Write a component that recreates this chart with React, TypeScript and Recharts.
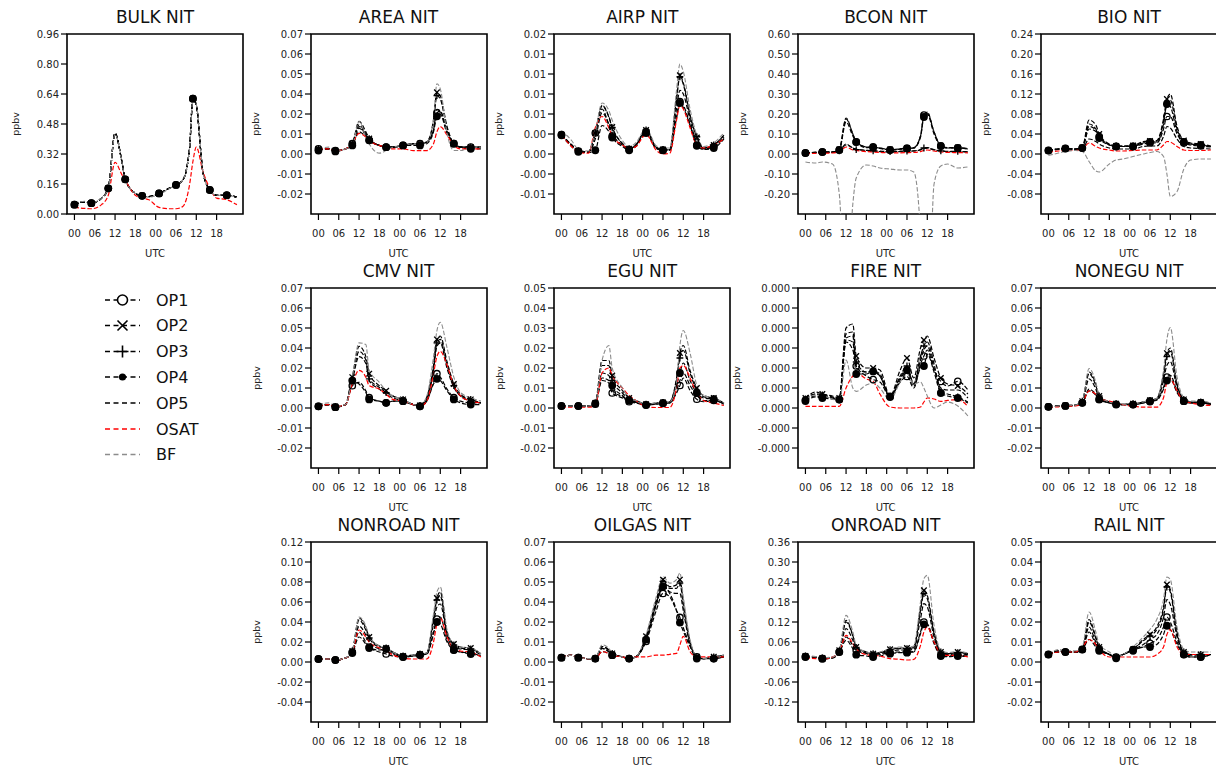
import React from 'react';
import { LineChart, Line, XAxis, YAxis, ReferenceArea } from 'recharts';

// hours since 00 UTC of day 1 (markers every 5 h)
const HOURS = [0, 3, 5, 8, 10, 12, 14, 15, 18, 20, 22, 25, 28, 30, 32, 34, 35, 36, 38, 40, 42, 45, 48];
const X_TICKS = [0, 6, 12, 18, 24, 30, 36, 42];
const X_LABELS = ['00', '06', '12', '18', '00', '06', '12', '18'];
const X_DOMAIN: [number, number] = [-2.2, 49.8];

// y tick labels, bottom to top
const Y_BULK = ['0.00', '0.16', '0.32', '0.48', '0.64', '0.80', '0.96'];
const Y_007 = ['-0.02', '-0.01', '0.00', '0.01', '0.02', '0.04', '0.05', '0.06', '0.07'];
const Y_AIRP = ['-0.01', '-0.00', '0.00', '0.00', '0.01', '0.01', '0.01', '0.01', '0.02'];
const Y_BCON = ['-0.20', '-0.10', '0.00', '0.10', '0.20', '0.30', '0.40', '0.50', '0.60'];
const Y_BIO = ['-0.08', '-0.04', '0.00', '0.04', '0.08', '0.12', '0.16', '0.20', '0.24'];
const Y_005 = ['-0.02', '-0.01', '0.00', '0.01', '0.02', '0.02', '0.03', '0.04', '0.05'];
const Y_FIRE = ['-0.000', '-0.000', '0.000', '0.000', '0.000', '0.000', '0.000', '0.000', '0.000'];
const Y_NONROAD = ['-0.04', '-0.02', '0.00', '0.02', '0.04', '0.06', '0.08', '0.10', '0.12'];
const Y_ONROAD = ['-0.12', '-0.06', '0.00', '0.06', '0.12', '0.18', '0.24', '0.30', '0.36'];

// ---- BULK
const BULK_OP = [0.05, 0.065, 0.058, 0.085, 0.137, 0.43, 0.28, 0.185, 0.11, 0.097, 0.093, 0.11, 0.137, 0.155, 0.18, 0.35, 0.615, 0.58, 0.22, 0.128, 0.1, 0.1, 0.09];
const BULK_OSAT = [0.035, 0.03, 0.028, 0.05, 0.1, 0.275, 0.21, 0.18, 0.1, 0.085, 0.076, 0.035, 0.028, 0.028, 0.04, 0.155, 0.28, 0.357, 0.225, 0.137, 0.085, 0.076, 0.05];
const BULK_BF = [0.055, 0.068, 0.06, 0.085, 0.135, 0.425, 0.28, 0.18, 0.11, 0.095, 0.09, 0.105, 0.135, 0.155, 0.18, 0.35, 0.61, 0.585, 0.22, 0.125, 0.1, 0.1, 0.088];

// ---- AREA
const AREA_OP = [
  [0.003, 0.003, 0.002, 0.003, 0.006, 0.016, 0.011, 0.008, 0.005, 0.004, 0.004, 0.005, 0.006, 0.006, 0.007, 0.014, 0.024, 0.025, 0.013, 0.006, 0.004, 0.004, 0.004],
  [0.003, 0.003, 0.002, 0.003, 0.006, 0.019, 0.013, 0.009, 0.005, 0.004, 0.004, 0.005, 0.006, 0.006, 0.007, 0.02, 0.036, 0.034, 0.016, 0.006, 0.004, 0.004, 0.004],
  [0.003, 0.003, 0.002, 0.003, 0.006, 0.017, 0.012, 0.009, 0.005, 0.004, 0.004, 0.005, 0.006, 0.006, 0.007, 0.019, 0.034, 0.032, 0.015, 0.006, 0.004, 0.004, 0.004],
  [0.002, 0.003, 0.0015, 0.003, 0.005, 0.013, 0.01, 0.008, 0.005, 0.004, 0.004, 0.005, 0.005, 0.005, 0.006, 0.013, 0.022, 0.023, 0.012, 0.006, 0.004, 0.003, 0.003],
  [0.003, 0.003, 0.002, 0.003, 0.006, 0.015, 0.011, 0.008, 0.005, 0.004, 0.004, 0.005, 0.006, 0.006, 0.007, 0.014, 0.026, 0.025, 0.013, 0.006, 0.004, 0.004, 0.004],
];
const AREA_OSAT = [0.003, 0.003, 0.002, 0.003, 0.006, 0.012, 0.01, 0.008, 0.005, 0.004, 0.003, 0.003, 0.002, 0.002, 0.002, 0.006, 0.013, 0.016, 0.011, 0.005, 0.003, 0.003, 0.003];
const AREA_BF = [0.003, 0.004, 0.002, 0.003, 0.005, 0.019, 0.01, 0.006, 0.0005, 0.002, 0.004, 0.005, 0.006, 0.006, 0.007, 0.02, 0.041, 0.038, 0.012, 0.002, 0.002, 0.004, 0.004];

// ---- AIRP
const AIRP_OP = [
  [0.0026, 0.0012, 0.0004, 0.0003, 0.0028, 0.006, 0.0038, 0.0024, 0.0012, 0.0006, 0.0012, 0.003, 0.0008, 0.0005, 0.0005, 0.005, 0.007, 0.0065, 0.004, 0.0012, 0.0007, 0.001, 0.0022],
  [0.0026, 0.0012, 0.0004, 0.0003, 0.0028, 0.0065, 0.005, 0.0036, 0.0014, 0.0007, 0.0012, 0.0032, 0.0009, 0.0006, 0.0006, 0.0075, 0.0105, 0.0095, 0.0052, 0.0022, 0.0008, 0.0012, 0.0025],
  [0.0026, 0.0012, 0.0004, 0.0003, 0.0028, 0.0064, 0.0049, 0.0035, 0.0014, 0.0007, 0.0012, 0.0032, 0.0009, 0.0006, 0.0006, 0.0073, 0.0103, 0.0093, 0.005, 0.0023, 0.0008, 0.0012, 0.0025],
  [0.0025, 0.001, 0.0003, 0.0002, 0.0005, 0.0038, 0.003, 0.0022, 0.001, 0.0005, 0.001, 0.0028, 0.0007, 0.0005, 0.0005, 0.0048, 0.0068, 0.0062, 0.0038, 0.0011, 0.0006, 0.0008, 0.002],
  [0.0026, 0.0012, 0.0004, 0.0003, 0.002, 0.0055, 0.004, 0.0028, 0.0012, 0.0006, 0.0012, 0.003, 0.0008, 0.0005, 0.0005, 0.006, 0.0085, 0.008, 0.0045, 0.0015, 0.0007, 0.001, 0.0022],
];
const AIRP_OSAT = [0.0025, 0.001, 0.0002, 0.0001, 0.0035, 0.005, 0.0035, 0.0024, 0.0012, 0.0007, 0.001, 0.0026, 0.0005, 0.0, 0.0001, 0.0045, 0.0065, 0.006, 0.0035, 0.0012, 0.0008, 0.0012, 0.002];
const AIRP_BF = [0.0031, 0.0018, 0.0006, 0.0004, 0.003, 0.0068, 0.0058, 0.0045, 0.0018, 0.001, 0.0015, 0.0034, 0.0011, 0.0008, 0.0008, 0.0085, 0.012, 0.011, 0.006, 0.0025, 0.001, 0.0015, 0.0028];

// ---- BCON
const BCON_OP = [
  [0.005, 0.008, 0.01, 0.01, 0.02, 0.18, 0.1, 0.06, 0.035, 0.032, 0.03, 0.02, 0.025, 0.028, 0.03, 0.09, 0.195, 0.21, 0.11, 0.04, 0.03, 0.03, 0.025],
  [0.005, 0.008, 0.01, 0.01, 0.022, 0.175, 0.1, 0.06, 0.035, 0.033, 0.03, 0.022, 0.026, 0.03, 0.032, 0.09, 0.19, 0.205, 0.11, 0.04, 0.032, 0.032, 0.027],
  [0.004, 0.006, 0.008, 0.008, 0.016, 0.045, 0.03, 0.022, 0.018, 0.016, 0.014, 0.012, 0.014, 0.015, 0.016, 0.022, 0.03, 0.032, 0.022, 0.016, 0.013, 0.013, 0.011],
  [0.005, 0.008, 0.01, 0.01, 0.02, 0.16, 0.09, 0.06, 0.032, 0.035, 0.028, 0.02, 0.024, 0.028, 0.03, 0.085, 0.185, 0.2, 0.1, 0.04, 0.03, 0.03, 0.025],
  [0.004, 0.006, 0.008, 0.008, 0.015, 0.05, 0.03, 0.025, 0.018, 0.015, 0.012, 0.01, 0.012, 0.013, 0.015, 0.02, 0.028, 0.03, 0.02, 0.015, 0.012, 0.012, 0.01],
];
const BCON_OSAT = [0.002, 0.003, 0.004, 0.005, 0.01, 0.035, 0.02, 0.018, 0.012, 0.01, 0.008, 0.006, 0.006, 0.007, 0.008, 0.012, 0.018, 0.02, 0.015, 0.01, 0.008, 0.007, 0.006];
const BCON_BF = [-0.04, -0.045, -0.04, -0.05, -0.2, -0.8, -0.25, -0.12, -0.055, -0.06, -0.07, -0.075, -0.08, -0.08, -0.09, -0.4, -1.0, -1.0, -0.15, -0.06, -0.05, -0.07, -0.065];

// ---- BIO
const BIO_OP = [
  [0.007, 0.01, 0.011, 0.01, 0.012, 0.05, 0.045, 0.035, 0.018, 0.015, 0.015, 0.015, 0.02, 0.022, 0.022, 0.05, 0.075, 0.075, 0.04, 0.022, 0.018, 0.016, 0.014],
  [0.007, 0.01, 0.011, 0.01, 0.013, 0.068, 0.058, 0.04, 0.02, 0.016, 0.016, 0.017, 0.025, 0.026, 0.027, 0.07, 0.11, 0.12, 0.055, 0.027, 0.022, 0.02, 0.016],
  [0.007, 0.01, 0.011, 0.01, 0.013, 0.06, 0.05, 0.037, 0.019, 0.016, 0.016, 0.016, 0.023, 0.025, 0.025, 0.065, 0.1, 0.108, 0.05, 0.025, 0.02, 0.018, 0.015],
  [0.007, 0.01, 0.011, 0.01, 0.012, 0.055, 0.048, 0.032, 0.018, 0.015, 0.015, 0.015, 0.022, 0.024, 0.024, 0.06, 0.1, 0.095, 0.045, 0.024, 0.02, 0.018, 0.015],
  [0.006, 0.009, 0.01, 0.009, 0.01, 0.03, 0.025, 0.02, 0.012, 0.01, 0.01, 0.01, 0.015, 0.016, 0.016, 0.035, 0.055, 0.052, 0.03, 0.015, 0.012, 0.011, 0.01],
];
const BIO_OSAT = [0.004, 0.006, 0.007, 0.007, 0.01, 0.022, 0.015, 0.012, 0.008, 0.006, 0.006, 0.007, 0.008, 0.008, 0.008, 0.018, 0.025, 0.024, 0.015, 0.008, 0.007, 0.007, 0.008];
const BIO_BF = [-0.003, 0.002, 0.005, 0.007, 0.005, -0.015, -0.034, -0.036, -0.02, -0.012, -0.01, -0.005, 0.0, 0.003, 0.005, -0.005, -0.04, -0.085, -0.075, -0.03, -0.012, -0.01, -0.01];

// ---- CMV
const CMV_OP = [
  [0.001, 0.002, 0.0005, 0.002, 0.013, 0.015, 0.01, 0.006, 0.004, 0.003, 0.004, 0.004, 0.002, 0.001, 0.004, 0.015, 0.02, 0.018, 0.011, 0.006, 0.004, 0.003, 0.003],
  [0.001, 0.002, 0.0008, 0.002, 0.018, 0.036, 0.03, 0.02, 0.013, 0.01, 0.007, 0.005, 0.002, 0.0015, 0.006, 0.025, 0.04, 0.042, 0.027, 0.014, 0.008, 0.005, 0.003],
  [0.001, 0.002, 0.0008, 0.002, 0.017, 0.033, 0.028, 0.017, 0.012, 0.009, 0.007, 0.005, 0.002, 0.0015, 0.006, 0.024, 0.038, 0.04, 0.025, 0.013, 0.007, 0.005, 0.003],
  [0.001, 0.002, 0.0005, 0.002, 0.016, 0.014, 0.009, 0.005, 0.004, 0.003, 0.004, 0.004, 0.002, 0.001, 0.004, 0.014, 0.017, 0.016, 0.01, 0.005, 0.003, 0.002, 0.002],
  [0.001, 0.002, 0.0008, 0.002, 0.016, 0.03, 0.026, 0.016, 0.011, 0.008, 0.006, 0.004, 0.002, 0.0015, 0.005, 0.022, 0.036, 0.038, 0.023, 0.012, 0.007, 0.004, 0.003],
];
const CMV_OSAT = [0.001, 0.002, 0.001, 0.002, 0.014, 0.022, 0.018, 0.013, 0.011, 0.008, 0.005, 0.004, 0.002, 0.001, 0.004, 0.02, 0.03, 0.033, 0.025, 0.013, 0.007, 0.004, 0.003];
const CMV_BF = [0.002, 0.003, 0.001, 0.002, 0.018, 0.038, 0.037, 0.022, 0.015, 0.01, 0.007, 0.005, 0.002, 0.0015, 0.007, 0.03, 0.045, 0.05, 0.035, 0.018, 0.009, 0.006, 0.004];

// ---- EGU
const EGU_OP = [
  [0.0008, 0.0008, 0.0008, 0.0008, 0.0015, 0.011, 0.01, 0.006, 0.004, 0.0025, 0.002, 0.0012, 0.0015, 0.0018, 0.002, 0.006, 0.009, 0.012, 0.007, 0.0035, 0.0025, 0.003, 0.0015],
  [0.0008, 0.0008, 0.0008, 0.0008, 0.002, 0.019, 0.019, 0.013, 0.007, 0.004, 0.003, 0.0015, 0.002, 0.0022, 0.0025, 0.012, 0.022, 0.025, 0.015, 0.008, 0.005, 0.004, 0.002],
  [0.0008, 0.0008, 0.0008, 0.0008, 0.002, 0.017, 0.017, 0.011, 0.006, 0.0035, 0.003, 0.0015, 0.002, 0.0022, 0.0025, 0.011, 0.02, 0.023, 0.014, 0.007, 0.0045, 0.0038, 0.002],
  [0.0008, 0.0008, 0.0008, 0.0008, 0.0018, 0.014, 0.013, 0.009, 0.005, 0.003, 0.0025, 0.0012, 0.0018, 0.002, 0.0022, 0.009, 0.014, 0.018, 0.011, 0.006, 0.004, 0.0035, 0.0018],
  [0.0008, 0.0008, 0.0008, 0.0008, 0.0016, 0.012, 0.011, 0.007, 0.0045, 0.0028, 0.0022, 0.0012, 0.0016, 0.0019, 0.002, 0.007, 0.011, 0.014, 0.009, 0.005, 0.003, 0.003, 0.0015],
];
const EGU_OSAT = [0.0003, 0.0003, 0.0003, 0.0003, 0.001, 0.014, 0.016, 0.013, 0.008, 0.005, 0.003, 0.0005, 0.0002, 0.0002, 0.0002, 0.008, 0.016, 0.017, 0.012, 0.006, 0.003, 0.002, 0.001];
const EGU_BF = [0.0008, 0.0008, 0.0008, 0.0008, 0.002, 0.019, 0.025, 0.016, 0.008, 0.004, 0.003, 0.0015, 0.002, 0.0022, 0.0025, 0.01, 0.025, 0.031, 0.022, 0.009, 0.005, 0.004, 0.002];

// ---- FIRE
const FIRE_OP = [
  [2e-5, 3e-5, 2.75e-5, 2.5e-5, 2.1e-5, 16.5e-5, 14.5e-5, 10.5e-5, 8e-5, 7.1e-5, 6.5e-5, 2.9e-5, 6.5e-5, 7.9e-5, 5e-5, 11e-5, 13e-5, 14.5e-5, 9.5e-5, 6.65e-5, 5.5e-5, 6.65e-5, 4.5e-5],
  [2.5e-5, 4e-5, 3.5e-5, 3e-5, 2.5e-5, 20e-5, 21e-5, 13e-5, 10e-5, 10e-5, 9.5e-5, 3e-5, 9.5e-5, 12.5e-5, 7.5e-5, 15e-5, 17e-5, 18e-5, 12.5e-5, 7.5e-5, 6e-5, 5.5e-5, 3.5e-5],
  [2.25e-5, 3.5e-5, 3.25e-5, 2.75e-5, 2.25e-5, 18.5e-5, 19e-5, 11.5e-5, 9e-5, 9.25e-5, 8.5e-5, 2.9e-5, 8e-5, 10.5e-5, 6e-5, 13e-5, 15.5e-5, 16.5e-5, 11e-5, 4e-5, 3.5e-5, 2.75e-5, 1.5e-5],
  [1.75e-5, 2.75e-5, 2.5e-5, 2.25e-5, 2.1e-5, 17e-5, 16.5e-5, 8.5e-5, 8.5e-5, 9.15e-5, 8e-5, 2.75e-5, 7e-5, 9.5e-5, 5.5e-5, 10e-5, 10.5e-5, 13.5e-5, 9e-5, 3.75e-5, 3e-5, 2.5e-5, 1.25e-5],
  [2.25e-5, 3.5e-5, 3e-5, 2.5e-5, 2.25e-5, 17.5e-5, 18e-5, 10e-5, 9e-5, 9e-5, 8e-5, 3e-5, 7.5e-5, 10e-5, 6e-5, 12e-5, 14.5e-5, 15.5e-5, 10e-5, 5e-5, 4.5e-5, 4.5e-5, 2.5e-5],
];
const FIRE_OSAT = [0.4e-5, 0.4e-5, 0.4e-5, 0.4e-5, 0.4e-5, 5e-5, 8e-5, 8.75e-5, 7.25e-5, 6.65e-5, 3.5e-5, 0.25e-5, 0, 0, 0, 0.25e-5, 1.5e-5, 2.5e-5, 2.25e-5, 1.65e-5, 1.9e-5, 2.1e-5, 0.4e-5];
const FIRE_BF = [2.25e-5, 3.25e-5, 3e-5, 2.25e-5, 1.5e-5, 12e-5, 5e-5, 4.15e-5, 5.75e-5, 6.25e-5, 5e-5, 2e-5, 6.5e-5, 8.5e-5, 6e-5, 6.5e-5, 5e-5, 3e-5, 0, 0.75e-5, 1.5e-5, 0.5e-5, -2e-5];

// ---- NONEGU
const NONEGU_OP = [
  [0.0007, 0.001, 0.0012, 0.0015, 0.003, 0.011, 0.008, 0.005, 0.003, 0.0022, 0.002, 0.002, 0.003, 0.004, 0.005, 0.012, 0.018, 0.019, 0.01, 0.004, 0.003, 0.003, 0.002],
  [0.0008, 0.0012, 0.0015, 0.0017, 0.004, 0.021, 0.014, 0.007, 0.0035, 0.0025, 0.0022, 0.0025, 0.0035, 0.0045, 0.0055, 0.02, 0.032, 0.035, 0.014, 0.005, 0.0035, 0.0035, 0.0025],
  [0.0008, 0.0012, 0.0015, 0.0017, 0.004, 0.02, 0.013, 0.007, 0.0035, 0.0025, 0.0022, 0.0025, 0.0035, 0.0045, 0.0055, 0.019, 0.03, 0.033, 0.013, 0.005, 0.0035, 0.0035, 0.0025],
  [0.0007, 0.001, 0.0012, 0.0015, 0.003, 0.01, 0.0075, 0.005, 0.003, 0.002, 0.002, 0.002, 0.003, 0.0038, 0.0045, 0.011, 0.016, 0.017, 0.009, 0.004, 0.003, 0.003, 0.002],
  [0.0008, 0.0011, 0.0013, 0.0016, 0.0035, 0.017, 0.011, 0.006, 0.0032, 0.0023, 0.002, 0.0022, 0.003, 0.004, 0.005, 0.016, 0.025, 0.027, 0.012, 0.0045, 0.003, 0.003, 0.002],
];
const NONEGU_OSAT = [0.0005, 0.0007, 0.001, 0.0012, 0.003, 0.01, 0.008, 0.006, 0.004, 0.003, 0.002, 0.001, 0.0005, 0.0005, 0.0005, 0.006, 0.015, 0.017, 0.01, 0.004, 0.003, 0.002, 0.0015];
const NONEGU_BF = [0.0008, 0.0012, 0.0015, 0.0017, 0.004, 0.023, 0.015, 0.007, 0.0035, 0.0025, 0.0022, 0.0025, 0.0035, 0.0045, 0.0055, 0.022, 0.04, 0.047, 0.018, 0.006, 0.004, 0.004, 0.003];

// ---- NONROAD
const NONROAD_OP = [
  [0.003, 0.003, 0.002, 0.004, 0.01, 0.03, 0.02, 0.015, 0.01, 0.008, 0.006, 0.005, 0.006, 0.007, 0.008, 0.03, 0.043, 0.045, 0.022, 0.012, 0.01, 0.009, 0.006],
  [0.003, 0.003, 0.002, 0.004, 0.011, 0.044, 0.034, 0.025, 0.016, 0.014, 0.01, 0.006, 0.007, 0.008, 0.009, 0.045, 0.064, 0.07, 0.03, 0.018, 0.015, 0.014, 0.008],
  [0.003, 0.003, 0.002, 0.004, 0.011, 0.042, 0.032, 0.024, 0.015, 0.014, 0.01, 0.006, 0.007, 0.008, 0.009, 0.043, 0.062, 0.066, 0.028, 0.017, 0.014, 0.013, 0.008],
  [0.003, 0.003, 0.002, 0.004, 0.009, 0.025, 0.018, 0.014, 0.012, 0.013, 0.009, 0.005, 0.006, 0.007, 0.008, 0.028, 0.04, 0.038, 0.02, 0.012, 0.01, 0.008, 0.006],
  [0.003, 0.003, 0.002, 0.004, 0.01, 0.036, 0.027, 0.02, 0.013, 0.011, 0.008, 0.005, 0.006, 0.007, 0.008, 0.038, 0.055, 0.058, 0.026, 0.015, 0.013, 0.012, 0.007],
];
const NONROAD_OSAT = [0.003, 0.003, 0.002, 0.004, 0.01, 0.032, 0.025, 0.02, 0.014, 0.011, 0.007, 0.004, 0.003, 0.003, 0.003, 0.02, 0.038, 0.044, 0.025, 0.013, 0.011, 0.01, 0.005];
const NONROAD_BF = [0.003, 0.003, 0.002, 0.004, 0.011, 0.045, 0.036, 0.026, 0.016, 0.014, 0.01, 0.006, 0.007, 0.008, 0.009, 0.048, 0.07, 0.075, 0.032, 0.018, 0.015, 0.014, 0.008];

// ---- OILGAS
const OILGAS_OP = [
  [0.0025, 0.004, 0.0025, 0.002, 0.002, 0.008, 0.006, 0.004, 0.003, 0.002, 0.003, 0.012, 0.03, 0.04, 0.038, 0.03, 0.026, 0.02, 0.01, 0.003, 0.002, 0.002, 0.003],
  [0.0025, 0.004, 0.0025, 0.002, 0.002, 0.009, 0.007, 0.005, 0.003, 0.002, 0.003, 0.015, 0.036, 0.048, 0.044, 0.045, 0.048, 0.035, 0.012, 0.003, 0.002, 0.003, 0.004],
  [0.0025, 0.004, 0.0025, 0.002, 0.002, 0.009, 0.007, 0.005, 0.003, 0.002, 0.003, 0.014, 0.035, 0.047, 0.043, 0.043, 0.046, 0.033, 0.011, 0.003, 0.002, 0.003, 0.004],
  [0.0025, 0.004, 0.0025, 0.002, 0.002, 0.006, 0.005, 0.004, 0.003, 0.002, 0.003, 0.013, 0.033, 0.044, 0.04, 0.03, 0.023, 0.018, 0.009, 0.002, 0.002, 0.002, 0.003],
  [0.0025, 0.004, 0.0025, 0.002, 0.002, 0.008, 0.006, 0.0045, 0.003, 0.002, 0.003, 0.013, 0.034, 0.045, 0.041, 0.04, 0.04, 0.03, 0.01, 0.003, 0.002, 0.0025, 0.0035],
];
const OILGAS_OSAT = [0.0025, 0.004, 0.0025, 0.002, 0.002, 0.006, 0.005, 0.004, 0.003, 0.002, 0.003, 0.003, 0.004, 0.004, 0.0045, 0.005, 0.01, 0.015, 0.006, 0.003, 0.003, 0.003, 0.003];
const OILGAS_BF = [0.0025, 0.004, 0.0025, 0.002, 0.002, 0.01, 0.008, 0.005, 0.003, 0.002, 0.003, 0.016, 0.038, 0.05, 0.046, 0.048, 0.052, 0.038, 0.013, 0.003, 0.002, 0.003, 0.004];

// ---- ONROAD
const ONROAD_OP = [
  [0.016, 0.014, 0.01, 0.012, 0.03, 0.075, 0.05, 0.035, 0.025, 0.02, 0.022, 0.028, 0.03, 0.03, 0.032, 0.09, 0.12, 0.115, 0.06, 0.02, 0.018, 0.02, 0.018],
  [0.018, 0.015, 0.012, 0.014, 0.035, 0.125, 0.08, 0.045, 0.03, 0.025, 0.028, 0.038, 0.042, 0.042, 0.045, 0.16, 0.215, 0.2, 0.09, 0.03, 0.025, 0.03, 0.025],
  [0.018, 0.015, 0.012, 0.014, 0.034, 0.12, 0.078, 0.044, 0.03, 0.025, 0.028, 0.037, 0.04, 0.04, 0.043, 0.155, 0.205, 0.19, 0.085, 0.03, 0.025, 0.028, 0.024],
  [0.015, 0.013, 0.01, 0.012, 0.03, 0.065, 0.04, 0.022, 0.018, 0.015, 0.018, 0.025, 0.028, 0.028, 0.03, 0.085, 0.113, 0.11, 0.055, 0.018, 0.016, 0.018, 0.016],
  [0.017, 0.014, 0.011, 0.013, 0.032, 0.1, 0.065, 0.04, 0.027, 0.022, 0.025, 0.033, 0.036, 0.036, 0.038, 0.13, 0.175, 0.165, 0.075, 0.025, 0.022, 0.025, 0.022],
];
const ONROAD_OSAT = [0.012, 0.01, 0.008, 0.015, 0.03, 0.08, 0.055, 0.04, 0.022, 0.02, 0.018, 0.01, 0.008, 0.006, 0.008, 0.05, 0.09, 0.105, 0.06, 0.025, 0.02, 0.02, 0.015];
const ONROAD_BF = [0.02, 0.016, 0.013, 0.015, 0.035, 0.14, 0.09, 0.05, 0.03, 0.027, 0.03, 0.04, 0.045, 0.045, 0.048, 0.18, 0.25, 0.26, 0.11, 0.035, 0.028, 0.032, 0.027];

// ---- RAIL
const RAIL_OP = [
  [0.003, 0.004, 0.004, 0.004, 0.005, 0.012, 0.007, 0.005, 0.003, 0.002, 0.003, 0.005, 0.006, 0.0075, 0.009, 0.014, 0.018, 0.016, 0.008, 0.003, 0.002, 0.002, 0.003],
  [0.003, 0.0045, 0.004, 0.004, 0.005, 0.017, 0.01, 0.006, 0.003, 0.002, 0.003, 0.005, 0.009, 0.011, 0.014, 0.022, 0.031, 0.029, 0.012, 0.004, 0.003, 0.003, 0.003],
  [0.003, 0.0045, 0.004, 0.004, 0.005, 0.016, 0.0095, 0.006, 0.003, 0.002, 0.003, 0.005, 0.0085, 0.0104, 0.013, 0.021, 0.03, 0.028, 0.011, 0.004, 0.003, 0.003, 0.003],
  [0.003, 0.004, 0.004, 0.004, 0.005, 0.009, 0.006, 0.0045, 0.003, 0.0015, 0.003, 0.0045, 0.006, 0.006, 0.007, 0.011, 0.0145, 0.013, 0.007, 0.003, 0.002, 0.002, 0.003],
  [0.003, 0.004, 0.004, 0.004, 0.005, 0.014, 0.008, 0.0055, 0.003, 0.002, 0.003, 0.005, 0.007, 0.009, 0.011, 0.018, 0.025, 0.023, 0.01, 0.0035, 0.0025, 0.0025, 0.003],
];
const RAIL_OSAT = [0.003, 0.004, 0.004, 0.004, 0.006, 0.009, 0.007, 0.005, 0.002, 0.002, 0.002, 0.002, 0.002, 0.002, 0.003, 0.006, 0.011, 0.013, 0.006, 0.003, 0.003, 0.003, 0.003];
const RAIL_BF = [0.003, 0.005, 0.0045, 0.0045, 0.006, 0.02, 0.012, 0.007, 0.004, 0.002, 0.003, 0.006, 0.01, 0.013, 0.017, 0.025, 0.034, 0.033, 0.014, 0.005, 0.004, 0.004, 0.004];

type PanelDef = {
  title: string; row: number; col: number; max: number; neg: boolean;
  yLabels: string[]; op: number[][]; osat: number[]; bf: number[]; gap: number;
};

const PANELS: PanelDef[] = [
  { title: 'BULK NIT', row: 0, col: 0, max: 0.96, neg: false, yLabels: Y_BULK, op: [BULK_OP, BULK_OP, BULK_OP, BULK_OP, BULK_OP], osat: BULK_OSAT, bf: BULK_BF, gap: 51 },
  { title: 'AREA NIT', row: 0, col: 1, max: 0.07, neg: true, yLabels: Y_007, op: AREA_OP, osat: AREA_OSAT, bf: AREA_BF, gap: 54.5 },
  { title: 'AIRP NIT', row: 0, col: 2, max: 0.016, neg: true, yLabels: Y_AIRP, op: AIRP_OP, osat: AIRP_OSAT, bf: AIRP_BF, gap: 55.5 },
  { title: 'BCON NIT', row: 0, col: 3, max: 0.6, neg: true, yLabels: Y_BCON, op: BCON_OP, osat: BCON_OSAT, bf: BCON_BF, gap: 55 },
  { title: 'BIO NIT', row: 0, col: 4, max: 0.24, neg: true, yLabels: Y_BIO, op: BIO_OP, osat: BIO_OSAT, bf: BIO_BF, gap: 55 },
  { title: 'CMV NIT', row: 1, col: 1, max: 0.07, neg: true, yLabels: Y_007, op: CMV_OP, osat: CMV_OSAT, bf: CMV_BF, gap: 54 },
  { title: 'EGU NIT', row: 1, col: 2, max: 0.048, neg: true, yLabels: Y_005, op: EGU_OP, osat: EGU_OSAT, bf: EGU_BF, gap: 54 },
  { title: 'FIRE NIT', row: 1, col: 3, max: 0.0003, neg: true, yLabels: Y_FIRE, op: FIRE_OP, osat: FIRE_OSAT, bf: FIRE_BF, gap: 61 },
  { title: 'NONEGU NIT', row: 1, col: 4, max: 0.07, neg: true, yLabels: Y_007, op: NONEGU_OP, osat: NONEGU_OSAT, bf: NONEGU_BF, gap: 54 },
  { title: 'NONROAD NIT', row: 2, col: 1, max: 0.12, neg: true, yLabels: Y_NONROAD, op: NONROAD_OP, osat: NONROAD_OSAT, bf: NONROAD_BF, gap: 54 },
  { title: 'OILGAS NIT', row: 2, col: 2, max: 0.07, neg: true, yLabels: Y_007, op: OILGAS_OP, osat: OILGAS_OSAT, bf: OILGAS_BF, gap: 55.5 },
  { title: 'ONROAD NIT', row: 2, col: 3, max: 0.36, neg: true, yLabels: Y_ONROAD, op: ONROAD_OP, osat: ONROAD_OSAT, bf: ONROAD_BF, gap: 55 },
  { title: 'RAIL NIT', row: 2, col: 4, max: 0.048, neg: true, yLabels: Y_005, op: RAIL_OP, osat: RAIL_OSAT, bf: RAIL_BF, gap: 55 },
];

const COL_X = [67, 310.5, 554.3, 797.7, 1041];
const ROW_Y = [34, 288, 542];
const BOX_W = 176;
const BOX_H = 180;
const ML = 60;

const OP_MARKS = ['o', 'x', '+', 'dot', 'none'];

const marker = (kind: string) => (props: any) => {
  const { cx, cy, payload, index } = props;
  const k = `m${index}`;
  if (cx == null || cy == null || payload.h % 5 !== 0) return <g key={k} />;
  if (kind === 'o') return <circle key={k} cx={cx} cy={cy} r={3.2} fill="none" stroke="#000" strokeWidth={1.3} />;
  if (kind === 'dot') return <circle key={k} cx={cx} cy={cy} r={3.9} fill="#000" />;
  if (kind === 'x') {
    const s = 2.8;
    return <path key={k} d={`M${cx - s},${cy - s}L${cx + s},${cy + s}M${cx - s},${cy + s}L${cx + s},${cy - s}`} stroke="#000" strokeWidth={1.3} />;
  }
  const s = 3.4;
  return <path key={k} d={`M${cx - s},${cy}L${cx + s},${cy}M${cx},${cy - s}L${cx},${cy + s}`} stroke="#000" strokeWidth={1.3} />;
};

function Panel({ p }: { p: PanelDef }) {
  const left = COL_X[p.col];
  const top = ROW_Y[p.row];
  const lo = p.neg ? -p.max / 2 : 0;
  const yTicks = p.yLabels.map((_, i) => ((p.neg ? i - 2 : i) * p.max) / 6);
  const data = HOURS.map((h, i) => ({
    h,
    OP1: p.op[0][i],
    OP2: p.op[1][i],
    OP3: p.op[2][i],
    OP4: p.op[3][i],
    OP5: p.op[4][i],
    OSAT: p.osat[i],
    BF: p.bf[i],
  }));
  const yFmt = (v: number) => {
    const i = yTicks.findIndex((t) => Math.abs(t - v) < p.max * 1e-6);
    return i >= 0 ? p.yLabels[i] : '';
  };
  return (
    <>
      <div style={{ position: 'absolute', left, top: top - 25, width: BOX_W, textAlign: 'center', fontSize: 17, lineHeight: '17px', color: '#111' }}>
        {p.title}
      </div>
      <div style={{ position: 'absolute', left: left - ML, top: top - 10 }}>
        <LineChart width={ML + BOX_W + 10} height={10 + BOX_H + 50} data={data} margin={{ top: 10, right: 10, bottom: 0, left: 0 }}>
          <XAxis
            type="number"
            dataKey="h"
            domain={X_DOMAIN}
            allowDataOverflow
            ticks={X_TICKS}
            interval={0}
            tickFormatter={(v: number) => X_LABELS[X_TICKS.indexOf(v)]}
            height={50}
            axisLine={false}
            tickSize={6}
            tickMargin={10}
            tickLine={{ stroke: '#000', strokeWidth: 1.2 }}
            tick={{ fontSize: 10, fill: '#222' }}
          />
          <YAxis
            type="number"
            domain={[lo, p.max]}
            allowDataOverflow
            ticks={yTicks}
            interval={0}
            tickFormatter={yFmt}
            width={ML}
            axisLine={false}
            tickSize={6}
            tickMargin={2}
            tickLine={{ stroke: '#000', strokeWidth: 1.2 }}
            tick={{ fontSize: 10, fill: '#222' }}
          />
          {OP_MARKS.map((m, i) => (
            <Line
              key={`op${i}`}
              dataKey={`OP${i + 1}`}
              type="monotone"
              stroke="#000"
              strokeWidth={1.2}
              strokeDasharray="4.5 2"
              dot={m === 'none' ? false : marker(m)}
              activeDot={false}
              isAnimationActive={false}
            />
          ))}
          <Line dataKey="OSAT" type="monotone" stroke="#ff0000" strokeWidth={1.2} strokeDasharray="4.5 2" dot={false} activeDot={false} isAnimationActive={false} />
          <Line dataKey="BF" type="monotone" stroke="#8c8c8c" strokeWidth={1.1} strokeDasharray="4.5 2" dot={false} activeDot={false} isAnimationActive={false} />
          <ReferenceArea x1={X_DOMAIN[0]} x2={X_DOMAIN[1]} y1={lo} y2={p.max} fill="none" fillOpacity={0} stroke="#000" strokeWidth={1.6} ifOverflow="visible" />
        </LineChart>
      </div>
      <div
        style={{
          position: 'absolute', left: left - p.gap, top: top + BOX_H / 2, fontSize: 9.5, lineHeight: '10px', color: '#222',
          transform: 'translate(-50%, -50%) rotate(-90deg)', whiteSpace: 'nowrap',
        }}
      >
        ppbv
      </div>
      <div style={{ position: 'absolute', left, top: top + BOX_H + 35, width: BOX_W, textAlign: 'center', fontSize: 10, lineHeight: '10px', color: '#222' }}>
        UTC
      </div>
    </>
  );
}

const LEGEND = [
  { name: 'OP1', color: '#000', mark: 'o' },
  { name: 'OP2', color: '#000', mark: 'x' },
  { name: 'OP3', color: '#000', mark: '+' },
  { name: 'OP4', color: '#000', mark: 'dot' },
  { name: 'OP5', color: '#000', mark: 'none' },
  { name: 'OSAT', color: '#ff0000', mark: 'none' },
  { name: 'BF', color: '#8c8c8c', mark: 'none' },
];
const LEGEND_Y = [300, 325.5, 351.5, 377, 403, 429, 454.5];

function Legend() {
  return (
    <svg style={{ position: 'absolute', left: 0, top: 0 }} width={260} height={480}>
      {LEGEND.map((e, i) => {
        const y = LEGEND_Y[i];
        const cx = 122.5;
        return (
          <g key={e.name}>
            <line x1={105} x2={140} y1={y} y2={y} stroke={e.color} strokeWidth={1.3} strokeDasharray="5 3.5" />
            {e.mark === 'o' && <circle cx={cx} cy={y} r={5} fill="#fff" stroke="#000" strokeWidth={1.6} />}
            {e.mark === 'x' && <path d={`M${cx - 5},${y - 5}L${cx + 5},${y + 5}M${cx - 5},${y + 5}L${cx + 5},${y - 5}`} stroke="#000" strokeWidth={1.6} />}
            {e.mark === '+' && <path d={`M${cx - 6},${y}L${cx + 6},${y}M${cx},${y - 6}L${cx},${y + 6}`} stroke="#000" strokeWidth={1.6} />}
            {e.mark === 'dot' && <circle cx={cx} cy={y} r={3.6} fill="#000" />}
            <text x={156} y={y} dominantBaseline="central" fontSize={16} fill="#111">
              {e.name}
            </text>
          </g>
        );
      })}
    </svg>
  );
}

export default function App() {
  return (
    <div style={{ position: 'absolute', left: 0, top: 0, width: 1216, height: 769, background: '#fff', fontFamily: '"DejaVu Sans", sans-serif', overflow: 'hidden' }}>
      {PANELS.map((p) => (
        <Panel key={p.title} p={p} />
      ))}
      <Legend />
    </div>
  );
}
